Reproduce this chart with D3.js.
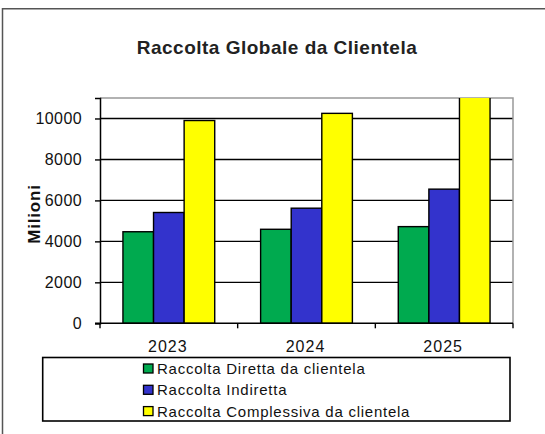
<!DOCTYPE html>
<html>
<head>
<meta charset="utf-8">
<script src="https://cdn.jsdelivr.net/npm/d3@7"></script>
<style>
  body { margin: 0; background: #fff; }
  text { font-family: "Liberation Sans", Arial, sans-serif; fill: #111; }
</style>
</head>
<body>
<div id="chart"></div>
<script>
// data
var years = ['2023', '2024', '2025']
var seriesNames = [
  'Raccolta Diretta da clientela',
  'Raccolta Indiretta',
  'Raccolta Complessiva da clientela',
]
var diretta = [4470, 4590, 4720]
var indiretta = [5410, 5620, 6550]
var complessiva = [9900, 10250, 11270]
var yTicks = [0, 2000, 4000, 6000, 8000, 10000]
var colors = ['#00AA4F', '#3333CC', '#FFFF00']

var width = 545
var height = 434
var margin = { left: 100, right: 32, top: 98, bottom: 111 }

var svg = d3
  .select('#chart')
  .append('svg')
  .attr('width', width)
  .attr('height', height)

// outer frame (only top and left visible)
svg
  .append('path')
  .attr('d', 'M2.5,' + height + ' V8.7 H' + width)
  .attr('fill', 'none')
  .attr('stroke', '#555')
  .attr('stroke-width', 1.5)

svg
  .append('text')
  .attr('x', 277)
  .attr('y', 54)
  .attr('text-anchor', 'middle')
  .attr('font-size', 19)
  .attr('letter-spacing', 0.5)
  .attr('font-weight', 'bold')
  .style('fill', '#222')
  .text('Raccolta Globale da Clientela')

var x0 = d3
  .scaleBand()
  .domain(years)
  .range([margin.left, width - margin.right])

var x1 = d3
  .scaleBand()
  .domain(d3.range(seriesNames.length))
  .range([0, x0.bandwidth()])
  .paddingInner(0)
  .paddingOuter(0.75)

var y = d3
  .scaleLinear()
  .domain([0, 11000])
  .range([height - margin.bottom + 0.3, margin.top])

var plot = svg.append('g')

// clip so the 2025 total bar is cut at the top
svg
  .append('clipPath')
  .attr('id', 'plotclip')
  .append('rect')
  .attr('x', margin.left)
  .attr('y', margin.top)
  .attr('width', width - margin.right - margin.left)
  .attr('height', y(0) - margin.top + 1)

// gridlines
plot
  .append('g')
  .selectAll('line')
  .data(yTicks.filter((d) => d > 0))
  .join('line')
  .attr('x1', margin.left)
  .attr('x2', width - margin.right)
  .attr('y1', (d) => y(d))
  .attr('y2', (d) => y(d))
  .attr('stroke', '#000')
  .attr('stroke-width', 1.4)

// plot area border top/right (gray)
plot
  .append('path')
  .attr(
    'd',
    'M' + margin.left + ',' + margin.top + ' H' + (width - margin.right) + ' V' + y(0)
  )
  .attr('fill', 'none')
  .attr('stroke', '#999')
  .attr('stroke-width', 1.5)

var allSeries = [diretta, indiretta, complessiva]
var barData = []
years.forEach(function (yr, i) {
  allSeries.forEach(function (s, j) {
    barData.push({ year: yr, k: j, value: s[i] })
  })
})

plot
  .append('g')
  .attr('clip-path', 'url(#plotclip)')
  .selectAll('rect')
  .data(barData)
  .join('rect')
  .attr('x', (d) => x0(d.year) + x1(d.k))
  .attr('y', (d) => y(d.value))
  .attr('width', x1.bandwidth())
  .attr('height', (d) => y(0) - y(d.value))
  .attr('fill', (d) => colors[d.k])
  .attr('stroke', '#000')
  .attr('stroke-width', 1.4)

// y axis
var yAxis = svg
  .append('g')
  .attr('transform', 'translate(' + margin.left + ',0)')
  .call(d3.axisLeft(y).tickValues(yTicks).tickSize(5).tickPadding(13).tickFormat(d3.format('d')))
yAxis.select('.domain').attr('stroke', '#000').attr('stroke-width', 1.5)
yAxis.selectAll('.tick line').attr('stroke', '#000').attr('stroke-width', 1.4)
yAxis
  .selectAll('.tick text')
  .attr('font-size', 16)
  .attr('letter-spacing', 0.4)
  .attr('font-family', 'Liberation Sans, Arial, sans-serif')
  .style('fill', '#111')

// x axis with ticks between categories
var xAxis = svg.append('g').attr('transform', 'translate(0,' + y(0) + ')')
xAxis
  .append('line')
  .attr('x1', margin.left - 5)
  .attr('x2', width - margin.right)
  .attr('stroke', '#000')
  .attr('stroke-width', 1.5)
xAxis
  .selectAll('.sep')
  .data(years.concat(['end']))
  .join('line')
  .attr('class', 'sep')
  .attr('x1', (d, i) => (i < years.length ? x0(d) : width - margin.right))
  .attr('x2', (d, i) => (i < years.length ? x0(d) : width - margin.right))
  .attr('y1', 0)
  .attr('y2', 5)
  .attr('stroke', '#000')
  .attr('stroke-width', 1.4)
xAxis
  .selectAll('text')
  .data(years)
  .join('text')
  .attr('x', (d) => x0(d) + x0.bandwidth() / 2 - 1)
  .attr('y', 29)
  .attr('text-anchor', 'middle')
  .attr('font-size', 16)
  .attr('letter-spacing', 1)
  .text((d) => d)

// y title
svg
  .append('text')
  .attr('transform', 'translate(40,214) rotate(-90)')
  .attr('text-anchor', 'middle')
  .attr('font-size', 17)
  .attr('letter-spacing', 0.8)
  .attr('font-weight', 'bold')
  .text('Milioni')

// legend
var legend = svg.append('g')
legend
  .append('rect')
  .attr('x', 42.7)
  .attr('y', 357.5)
  .attr('width', 467.3)
  .attr('height', 63.5)
  .attr('fill', '#fff')
  .attr('stroke', '#000')
  .attr('stroke-width', 1.6)

var rows = legend
  .selectAll('.item')
  .data(seriesNames)
  .join('g')
  .attr('class', 'item')
  .attr('transform', (d, i) => 'translate(143,' + (368.5 + i * 21.3) + ')')
rows
  .append('rect')
  .attr('x', 0.5)
  .attr('y', -4.5)
  .attr('width', 9.5)
  .attr('height', 9)
  .attr('fill', (d, i) => colors[i])
  .attr('stroke', '#000')
  .attr('stroke-width', 1.3)
rows
  .append('text')
  .attr('x', 14)
  .attr('dy', '0.36em')
  .attr('font-size', 15)
  .attr('letter-spacing', 0.75)
  .text((d) => d)
</script>
</body>
</html>
